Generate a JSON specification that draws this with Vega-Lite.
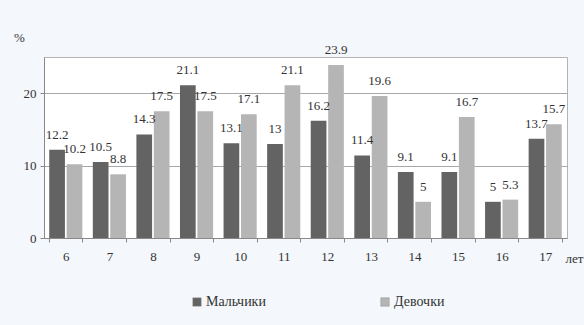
{
  "$schema": "https://vega.github.io/schema/vega-lite/v6.json",
  "width": 523,
  "height": 181,
  "autosize": "none",
  "padding": {"left": 44, "top": 57, "right": 17, "bottom": 87},
  "background": "#f4f7fb",
  "config": {
    "view": {"fill": "white", "stroke": "#b4b4b4", "strokeWidth": 1},
    "font": "Times New Roman, Liberation Serif, DejaVu Serif, serif"
  },
  "data": {
    "values": [
      {"age": "6", "sex": "Мальчики", "v": 12.2}, {"age": "6", "sex": "Девочки", "v": 10.2},
      {"age": "7", "sex": "Мальчики", "v": 10.5}, {"age": "7", "sex": "Девочки", "v": 8.8},
      {"age": "8", "sex": "Мальчики", "v": 14.3}, {"age": "8", "sex": "Девочки", "v": 17.5},
      {"age": "9", "sex": "Мальчики", "v": 21.1}, {"age": "9", "sex": "Девочки", "v": 17.5},
      {"age": "10", "sex": "Мальчики", "v": 13.1}, {"age": "10", "sex": "Девочки", "v": 17.1},
      {"age": "11", "sex": "Мальчики", "v": 13}, {"age": "11", "sex": "Девочки", "v": 21.1},
      {"age": "12", "sex": "Мальчики", "v": 16.2}, {"age": "12", "sex": "Девочки", "v": 23.9},
      {"age": "13", "sex": "Мальчики", "v": 11.4}, {"age": "13", "sex": "Девочки", "v": 19.6},
      {"age": "14", "sex": "Мальчики", "v": 9.1}, {"age": "14", "sex": "Девочки", "v": 5},
      {"age": "15", "sex": "Мальчики", "v": 9.1}, {"age": "15", "sex": "Девочки", "v": 16.7},
      {"age": "16", "sex": "Мальчики", "v": 5}, {"age": "16", "sex": "Девочки", "v": 5.3},
      {"age": "17", "sex": "Мальчики", "v": 13.7}, {"age": "17", "sex": "Девочки", "v": 15.7}
    ]
  },
  "encoding": {
    "x": {
      "field": "age", "type": "ordinal", "sort": null,
      "scale": {"paddingInner": 0.24, "paddingOuter": 0.12},
      "axis": {
        "title": "лет", "titleX": 521, "titleY": 20, "titleAlign": "left", "titleBaseline": "middle",
        "titleFontSize": 13, "titleFontWeight": "normal", "titleColor": "#333",
        "labelAngle": 0, "labelFontSize": 13, "labelColor": "#333", "labelPadding": 8,
        "tickBand": "extent", "tickSize": 4, "tickColor": "#888", "domainColor": "#888"
      }
    },
    "xOffset": {"field": "sex", "type": "nominal", "sort": ["Мальчики", "Девочки"], "scale": {"paddingInner": 0.1}},
    "y": {
      "field": "v", "type": "quantitative",
      "scale": {"domain": [0, 25]},
      "axis": {
        "values": [0, 10, 20], "title": "%", "titleAngle": 0, "titleX": -25, "titleY": -20,
        "titleAlign": "center", "titleBaseline": "middle", "titleFontSize": 13, "titleFontWeight": "normal", "titleColor": "#333",
        "labelFontSize": 13, "labelColor": "#333", "labelPadding": 4,
        "tickSize": 4, "tickColor": "#888", "domainColor": "#888",
        "grid": true, "gridColor": "#a8a8a8"
      }
    }
  },
  "layer": [
    {
      "mark": {"type": "bar"},
      "encoding": {
        "color": {
          "field": "sex", "type": "nominal", "sort": ["Мальчики", "Девочки"],
          "scale": {"domain": ["Мальчики", "Девочки"], "range": ["#636363", "#b5b5b5"]},
          "legend": {
            "title": null, "orient": "none", "direction": "horizontal",
            "legendX": 146, "legendY": 238,
            "symbolType": "square", "symbolSize": 70, "symbolStrokeColor": "#888", "symbolStrokeWidth": 0.5,
            "labelFontSize": 14, "labelColor": "#333", "labelOffset": 2, "columnPadding": 112
          }
        }
      }
    },
    {
      "mark": {"type": "text", "dy": -8, "fontSize": 13, "color": "#333", "baseline": "bottom"},
      "encoding": {
        "text": {"field": "v", "type": "quantitative"}
      }
    }
  ]
}
